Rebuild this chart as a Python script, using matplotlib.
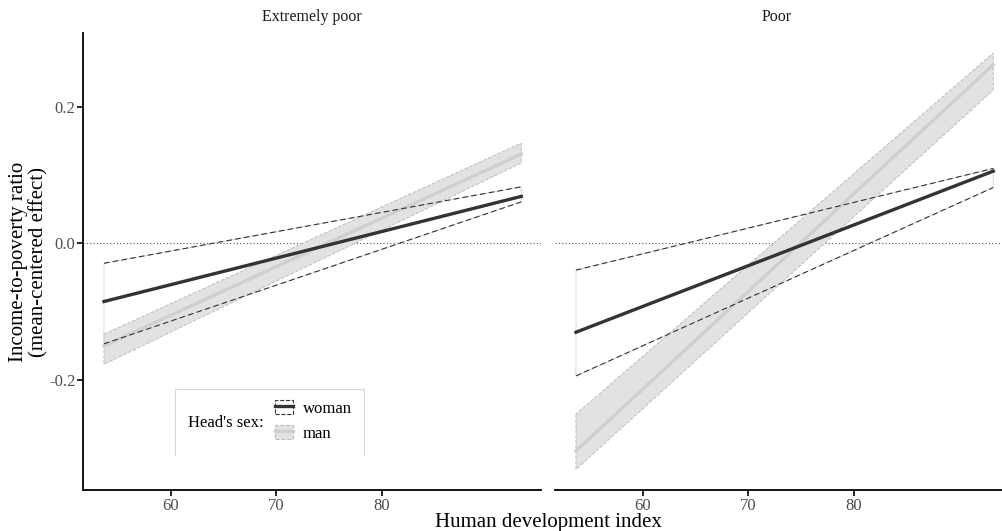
import matplotlib
matplotlib.use("Agg")
import matplotlib.pyplot as plt
from matplotlib.lines import Line2D
from matplotlib.patches import Patch

plt.rcParams["font.family"] = ["Liberation Serif", "DejaVu Serif"]

# HDI range covered by the fitted lines
hdi = [53.65, 93.2]

# Extremely poor households
ep_woman_mean = [-0.085, 0.069]
ep_woman_low = [-0.147, 0.061]
ep_woman_high = [-0.029, 0.083]
ep_man_mean = [-0.150, 0.131]
ep_man_low = [-0.177, 0.118]
ep_man_high = [-0.133, 0.147]

# Poor households
p_woman_mean = [-0.130, 0.106]
p_woman_low = [-0.194, 0.082]
p_woman_high = [-0.039, 0.110]
p_man_mean = [-0.304, 0.262]
p_man_low = [-0.331, 0.225]
p_man_high = [-0.250, 0.279]

panel_titles = ["Extremely poor", "Poor"]
x_ticks = [60, 70, 80]
y_ticks = [-0.2, 0.0, 0.2]
y_tick_labels = ["-0.2", "0.0", "0.2"]

DARK = "#333333"
GREY_LINE = "#cfcfcf"
GREY_FILL = "#e2e2e2"
GREY_EDGE = "#bdbdbd"
TICK_COL = "#4d4d4d"


def draw_panel(ax, woman_mean, woman_low, woman_high, man_mean, man_low, man_high):
    # zero reference line
    ax.axhline(0, color="#555555", linestyle=(0, (1, 2)), linewidth=0.8, zorder=1)

    # man: shaded confidence band with dashed outline and light centre line
    ax.fill_between(hdi, man_low, man_high, facecolor=GREY_FILL, edgecolor=GREY_EDGE,
                    linestyle="--", linewidth=0.7, zorder=2)
    ax.plot(hdi, man_mean, color=GREY_LINE, linewidth=2.4, zorder=3)

    # woman: unfilled band with dashed bounds and dark centre line
    ax.fill_between(hdi, woman_low, woman_high, facecolor="none", edgecolor="#d0d0d0",
                    linewidth=0.6, zorder=4)
    ax.plot(hdi, woman_low, color=DARK, linestyle=(0, (5, 3)), linewidth=0.8, zorder=5)
    ax.plot(hdi, woman_high, color=DARK, linestyle=(0, (5, 3)), linewidth=0.8, zorder=5)
    ax.plot(hdi, woman_mean, color=DARK, linewidth=2.4, zorder=6)

    ax.set_xlim(51.66, 95.07)
    ax.set_ylim(-0.3612, 0.3084)
    ax.set_xticks(x_ticks)
    ax.set_xticklabels([str(t) for t in x_ticks])
    ax.tick_params(axis="both", length=4, width=1.2, color="black",
                   labelcolor=TICK_COL, labelsize=12, pad=1.5)
    for side in ["top", "right"]:
        ax.spines[side].set_visible(False)
    ax.spines["bottom"].set_linewidth(1.3)
    ax.spines["left"].set_linewidth(1.3)


fig = plt.figure(figsize=(10.03, 5.31), dpi=100)
W, H = 1003, 531

ax1 = fig.add_axes([83 / W, (H - 490) / H, 458 / W, 457 / H])
ax2 = fig.add_axes([555 / W, (H - 490) / H, 458 / W, 457 / H])

draw_panel(ax1, ep_woman_mean, ep_woman_low, ep_woman_high, ep_man_mean, ep_man_low, ep_man_high)
draw_panel(ax2, p_woman_mean, p_woman_low, p_woman_high, p_man_mean, p_man_low, p_man_high)

ax1.set_yticks(y_ticks)
ax1.set_yticklabels(y_tick_labels)
ax2.set_yticks([])
ax2.spines["left"].set_visible(False)

# facet titles
fig.text(312 / W, 1 - 17 / H, panel_titles[0], ha="center", va="center", fontsize=11.5, color="#1a1a1a")
fig.text(777 / W, 1 - 17 / H, panel_titles[1], ha="center", va="center", fontsize=11.5, color="#1a1a1a")

# axis titles
fig.text(548 / W, 1 - 522 / H, "Human development index", ha="center", va="center", fontsize=15)
fig.text(29 / W, 1 - 262 / H, "Income-to-poverty ratio\n(mean-centered effect)", ha="center",
         va="center", rotation=90, fontsize=15, linespacing=1.05, multialignment="center")

# legend: open-bottom box, title on the left, keys on the right
box_col = "#d9d9d9"
for xs, ys in [([175, 175], [455, 389]), ([175, 364], [389, 389]), ([364, 364], [389, 455])]:
    fig.add_artist(Line2D([x / W for x in xs], [1 - y / H for y in ys], color=box_col,
                          linewidth=0.8, transform=fig.transFigure))
fig.text(188 / W, 1 - 423 / H, "Head's sex:", ha="left", va="center", fontsize=12)

woman_key = (Patch(facecolor="white", edgecolor=DARK, linestyle="--", linewidth=0.8),
             Line2D([], [], color=DARK, linewidth=2.4))
man_key = (Patch(facecolor=GREY_FILL, edgecolor=GREY_EDGE, linestyle="--", linewidth=0.8),
           Line2D([], [], color=GREY_LINE, linewidth=2.4))
fig.legend([woman_key, man_key], ["woman", "man"], loc="upper left",
           bbox_to_anchor=(275 / W, 1 - 400 / H), frameon=False, fontsize=12,
           borderpad=0, borderaxespad=0, handlelength=1.1, handleheight=0.9,
           handletextpad=0.55, labelspacing=0.5)

fig.savefig("out.png", dpi=100)
